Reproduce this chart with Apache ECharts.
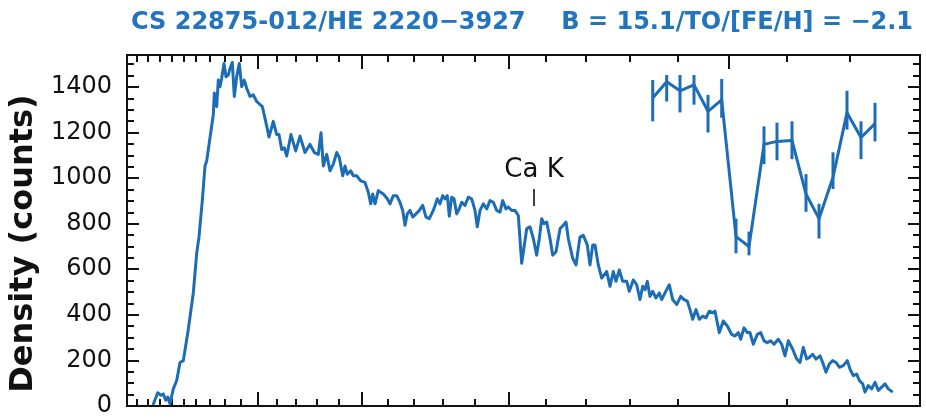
<!DOCTYPE html>
<html>
<head>
<meta charset="utf-8">
<script src="https://cdn.jsdelivr.net/npm/echarts@6/dist/echarts.min.js"></script>
<style>
  html, body { margin: 0; padding: 0; background: #ffffff; }
  #chart { width: 926px; height: 418px; }
</style>
</head>
<body>
<div id="chart"></div>
<script>
// Objective-prism density tracing of CS 22875-012 / HE 2220-3927.
// x = position along the spectrum (plate units), y = density in counts.

const titleLeft = 'CS 22875-012/HE 2220\u22123927';
const titleRight = 'B = 15.1/TO/[FE/H] = \u22122.1';
const yName = 'Density (counts)';
const lineLabel = 'Ca K';

// Spectrum trace
const specPos = [
  26, 30.7, 34, 36.3, 38.7, 40.7, 43, 46.3, 49.7, 53, 56.3, 61.3, 66.3, 69.7, 72, 75.3,
  78, 79.7, 83, 86.3, 87.3, 89.7, 91.3, 93, 94.7, 97, 99, 101.3, 103, 105.3, 107.3, 109.7,
  112.3, 114.7, 117.3, 119.7, 123, 126.3, 129.7, 135.3, 138.7, 142, 146.3, 149.7, 152, 154.7,
  157.3, 159.7, 164, 168.7, 173, 178, 183, 187.3, 191.3, 194, 196.3, 199.7,
  203, 206.3, 209.7, 212.3, 215.7, 218, 220.3, 223.7, 226.3, 229.7, 233.7, 238, 241.3, 243.7,
  245.7, 248, 251.3, 256.3, 260.3, 263, 266.3, 269.7, 273, 275.7, 278, 280.3, 283, 285.7,
  289, 292.3, 295.7, 299, 302.3, 306.3, 310.3, 313, 315.7, 318, 320.3, 322.3, 324.7, 327,
  329.7, 332.3, 334.7, 338, 341.3, 344.7, 348, 350.3, 353, 356.3, 359.7, 363, 366.3, 369.7,
  373, 375.7, 379, 381.3, 384.7, 388, 391.3, 393, 394.7, 396.3, 399.7, 403, 406.3, 409.7,
  412.3, 414.7, 417, 419.7, 423, 425.7, 429, 433, 436.3, 439, 441.3, 445.7, 449, 453,
  456.3, 460.3, 463, 465.7, 468, 471.3, 474.7,
  476.3, 479.7, 483, 486.3, 489, 492.3, 495.7, 499.7, 502.3, 506.3, 509.7, 513, 515.7, 518,
  520.3, 523, 525.7, 529, 532.3, 534.7, 538, 542.3, 545.7, 549.7, 553.7, 557, 560.3, 563,
  565.7, 569, 572.3, 575.7, 579, 582.3, 585.7, 588, 592.3, 596.3, 600.3, 604.7, 608, 611.3,
  613.7, 617, 620.3, 623, 626.3, 630.3, 633.7, 637, 640.3, 643.7, 647, 651.3, 654.7, 658,
  661.3, 665.7, 669.7, 673, 676.3, 679.7, 682.3, 685.7, 689, 693, 695.7, 699, 702.3, 705.7,
  709, 712.3, 716.3, 720.3, 723, 726.3, 729.7, 732.3, 735.7, 738, 741.3, 744.7, 748, 751.3,
  754.7, 758, 761.3, 765.7
];
const specDensity = [
  4, 58, 47, 53, 25, 39, 10, 75, 112, 191, 199, 336, 496, 670, 742, 901,
  1053, 1075, 1177, 1278, 1373, 1314, 1430, 1401, 1438, 1503, 1445, 1452, 1481, 1507, 1358, 1445,
  1503, 1401, 1430, 1394, 1358, 1365, 1336, 1314, 1249, 1180, 1249, 1191, 1191, 1126,
  1133, 1097, 1191, 1119, 1184, 1112, 1148, 1112, 1104, 1199, 1053, 1104,
  1032, 1061, 1112, 1090, 1010, 1053, 1017, 1032, 1010, 1010, 988, 981, 938, 887,
  930, 887, 945, 930, 909, 887, 923, 923, 894, 858, 793, 843, 858, 829,
  843, 858, 880, 829, 822, 858, 909, 887, 923, 909, 923, 833, 916, 909,
  843, 865, 894, 880, 916, 909, 858, 786, 858, 887, 865, 901, 894, 858,
  851, 901, 865, 873, 858, 858, 836, 843, 626, 619, 778, 786, 735, 662,
  735, 822, 800, 807, 735, 662, 677, 778, 793, 807, 735, 648, 619, 742,
  749, 706, 619, 706, 706, 619, 561,
  568, 590, 525, 590, 547, 597, 547, 547, 503, 553, 532, 467, 525, 510,
  547, 481, 503, 474, 496, 467, 496, 532, 467, 445, 481, 467, 460, 423,
  380, 423, 380, 394, 387, 416, 409, 416, 322, 373, 351, 314, 307, 322,
  293, 343, 322, 322, 271, 314, 322, 286, 278, 286, 271, 293, 271, 220,
  286, 249, 206, 191, 257, 206, 213, 227, 206, 220, 191, 148, 184, 199,
  191, 170, 177, 199, 162, 133, 140, 112, 97, 61, 90, 75, 104, 68,
  83, 97, 75, 61
];

// Inset: Ca K region profile with error bars
const insetPos = [525.7, 539.7, 553, 567, 581, 594.7, 609, 622, 637, 650, 665, 679, 692, 706, 720, 734, 748];
const insetValue = [1351, 1423, 1383, 1409, 1293, 1343, 743, 700, 1148, 1161, 1165, 930, 822, 1004, 1287, 1178, 1239];
const insetLow = [1249, 1336, 1288, 1322, 1200, 1265, 670, 661, 1061, 1078, 1083, 852, 735, 952, 1213, 1083, 1161];
const insetHigh = [1430, 1452, 1452, 1452, 1365, 1435, 822, 765, 1227, 1243, 1249, 1017, 887, 1113, 1383, 1249, 1330];

// Ca K marker
const caKPos = 407;
const caKRange = [878, 952];

// Axis ticks
const xMinorTicks = [10, 21, 33, 45, 57, 69, 83, 98, 114, 150, 169, 190, 212, 261, 287, 316, 348, 419, 459, 503, 551, 660, 723];
const xMajorTicks = [131, 235, 382, 602];
const yTickLabels = [0, 200, 400, 600, 800, 1000, 1200, 1400];
const yMinorTicks = [50, 100, 150, 250, 300, 350, 450, 500, 550, 650, 700, 750, 850, 900, 950,
  1050, 1100, 1150, 1250, 1300, 1350, 1450, 1500];

const X_MIN = 0, X_MAX = 793;
const Y_MIN = 0, Y_MAX = 1540;

const BLUE = '#1c6db6';
const TITLE_BLUE = '#2174bd';
const INK = '#111111';

function xAxisDef(position, ticks, len) {
  return {
    type: 'value', position: position, min: X_MIN, max: X_MAX,
    axisLine: { show: true, onZero: false, lineStyle: { color: INK, width: 2 } },
    axisTick: { show: true, inside: true, length: len, customValues: ticks,
                lineStyle: { color: INK, width: 2 } },
    axisLabel: { show: false },
    splitLine: { show: false }
  };
}

function yAxisDef(position, ticks, len, withLabels) {
  const ax = {
    type: 'value', position: position, min: Y_MIN, max: Y_MAX,
    axisLine: { show: true, onZero: false, lineStyle: { color: INK, width: 2 } },
    axisTick: { show: true, inside: true, length: len, customValues: ticks,
                lineStyle: { color: INK, width: 2 } },
    axisLabel: { show: false },
    splitLine: { show: false }
  };
  if (withLabels) {
    ax.axisLabel = {
      show: true, customValues: yTickLabels, margin: 15,
      formatter: v => String(v),
      color: INK, fontFamily: 'DejaVu Sans', fontSize: 24
    };
    ax.name = yName;
    ax.nameLocation = 'middle';
    ax.nameGap = 78;
    ax.nameTextStyle = {
      color: INK, fontFamily: 'DejaVu Sans', fontWeight: 'bold', fontSize: 32,
      padding: [0, 26, 0, 0]
    };
  }
  return ax;
}

const chart = echarts.init(document.getElementById('chart'), null, { renderer: 'canvas' });

chart.setOption({
  backgroundColor: '#ffffff',
  animation: false,
  title: [
    { text: titleLeft, left: 126, top: 6,
      textStyle: { color: TITLE_BLUE, fontFamily: 'DejaVu Sans', fontWeight: 'bold', fontSize: 24 } },
    { text: titleRight, right: 8, top: 6,
      textStyle: { color: TITLE_BLUE, fontFamily: 'DejaVu Sans', fontWeight: 'bold', fontSize: 24 } }
  ],
  grid: { left: 127, right: 6, top: 55, bottom: 9, containLabel: false },
  xAxis: [
    xAxisDef('bottom', xMinorTicks, 7),
    xAxisDef('bottom', xMajorTicks, 14),
    xAxisDef('top', xMinorTicks, 7),
    xAxisDef('top', xMajorTicks, 14)
  ],
  yAxis: [
    yAxisDef('left', yTickLabels, 12, true),
    yAxisDef('left', yMinorTicks, 7, false),
    yAxisDef('right', yTickLabels, 12, false),
    yAxisDef('right', yMinorTicks, 7, false)
  ],
  series: [
    {
      name: 'spectrum', type: 'line', xAxisIndex: 0, yAxisIndex: 0,
      showSymbol: false, symbol: 'none',
      lineStyle: { color: BLUE, width: 3, join: 'round' },
      data: specPos.map((x, i) => [x, specDensity[i]])
    },
    {
      name: 'Ca K profile', type: 'line', xAxisIndex: 0, yAxisIndex: 0,
      showSymbol: false, symbol: 'none',
      lineStyle: { color: BLUE, width: 3, join: 'round' },
      data: insetPos.map((x, i) => [x, insetValue[i]])
    },
    {
      name: 'Ca K errors', type: 'custom', xAxisIndex: 0, yAxisIndex: 0,
      encode: { x: 0, y: [1, 2] },
      renderItem: function (params, api) {
        const lo = api.coord([api.value(0), api.value(1)]);
        const hi = api.coord([api.value(0), api.value(2)]);
        return {
          type: 'line',
          shape: { x1: lo[0], y1: lo[1], x2: hi[0], y2: hi[1] },
          style: { stroke: BLUE, lineWidth: 3 }
        };
      },
      data: insetPos.map((x, i) => [x, insetLow[i], insetHigh[i]])
    },
    {
      name: 'Ca K mark', type: 'line', xAxisIndex: 0, yAxisIndex: 0,
      showSymbol: false, symbol: 'none',
      lineStyle: { color: INK, width: 1.6 },
      data: caKRange.map(v => [caKPos, v])
    },
    {
      name: 'Ca K label', type: 'scatter', xAxisIndex: 0, yAxisIndex: 0,
      symbolSize: 0,
      itemStyle: { opacity: 1 },
      label: {
        show: true, position: 'top', distance: 6, formatter: lineLabel,
        color: INK, fontFamily: 'DejaVu Sans', fontSize: 26
      },
      data: [[caKPos, caKRange[1]]]
    }
  ]
});
</script>
</body>
</html>
